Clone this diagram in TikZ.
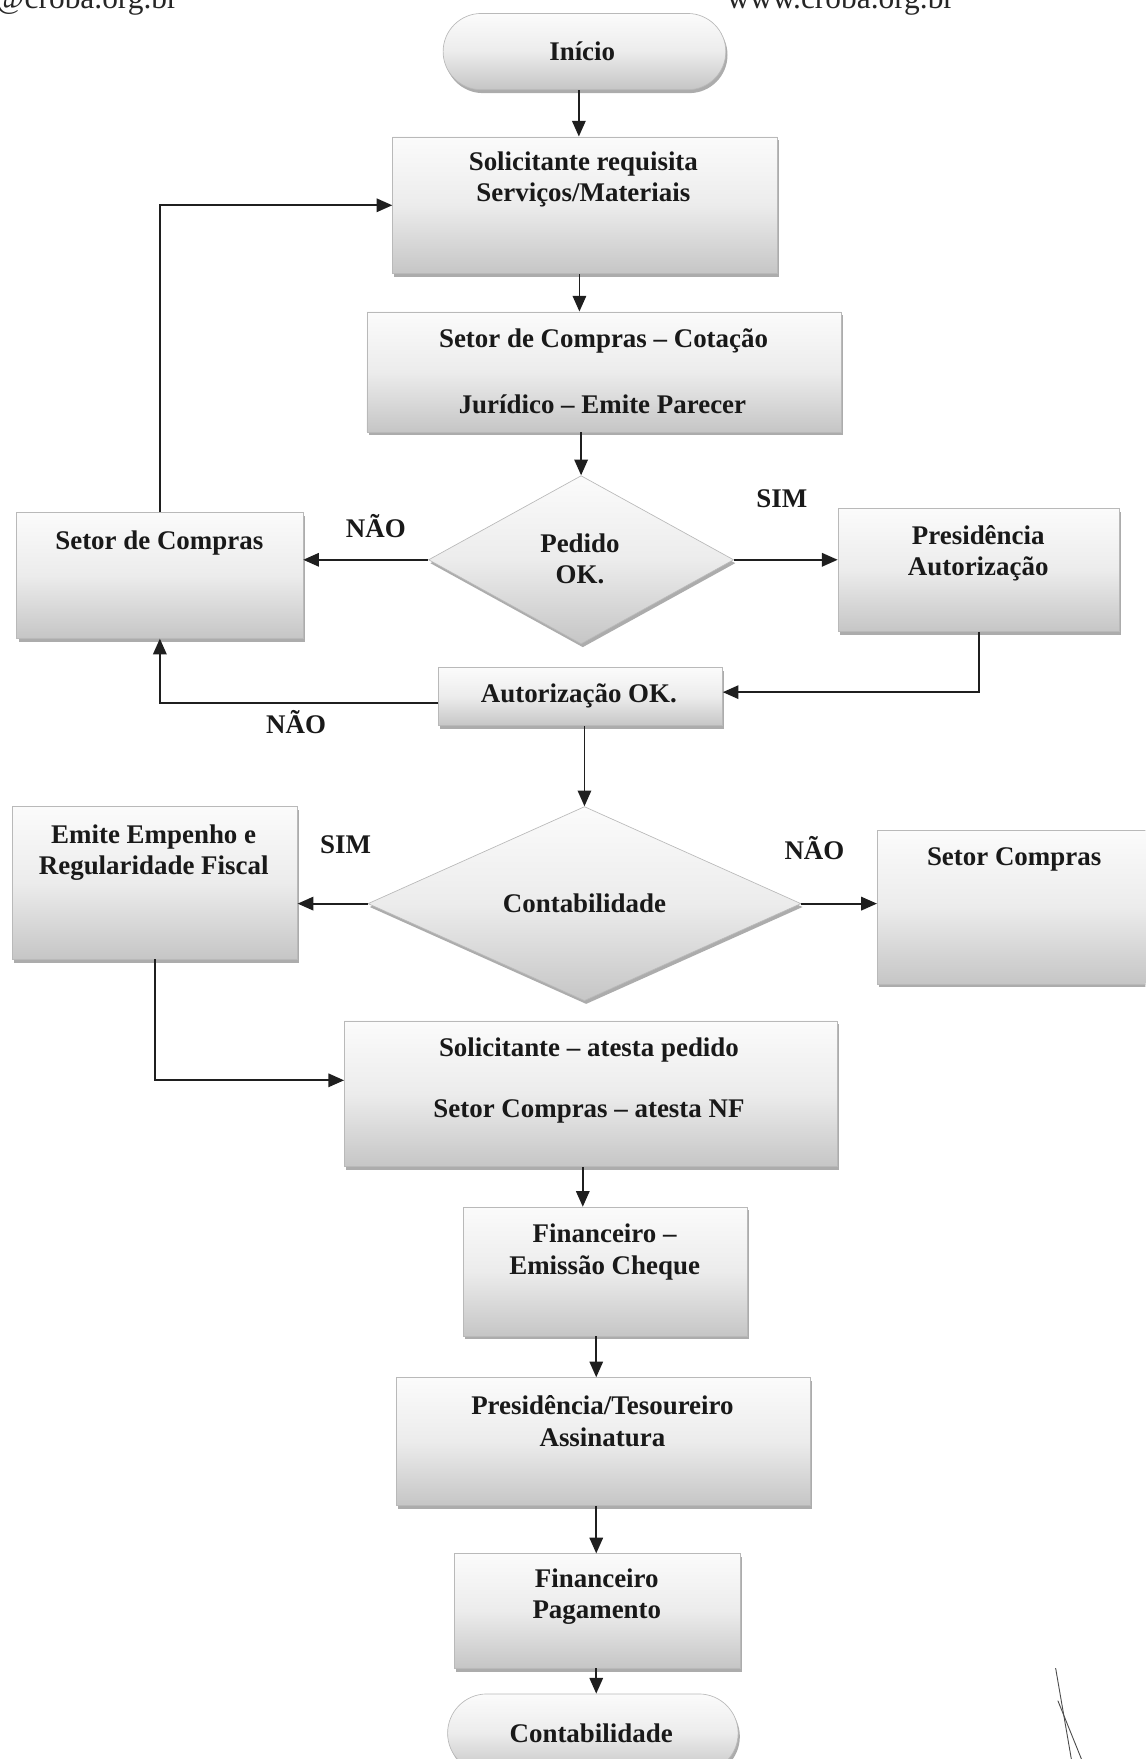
\documentclass[tikz,border=0pt]{standalone}
\usepackage{fontspec}
\setmainfont{Liberation Serif}
\usetikzlibrary{shapes.geometric,arrows.meta,shadows}
\begin{document}
\begin{tikzpicture}[x=1pt,y=-1pt,
 sh/.style={draw=gray!55, line width=0.6pt, shading=axis, top color=gray!3, bottom color=gray!45, middle color=gray!15,
   general shadow={fill=gray!65, shadow xshift=1.5pt, shadow yshift=-3pt}},
 boxn/.style={sh, rectangle, inner sep=0pt},
 term/.style={sh, rectangle, inner sep=0pt},
 dia/.style={sh, diamond, inner sep=0pt},
 txt/.style={font=\bfseries\fontsize{24}{28}\selectfont, text=black!90, align=center, inner sep=0pt},
 hdr/.style={font=\fontsize{28}{30}\selectfont, text=black!85, anchor=base west, inner sep=0pt},
 arr/.style={draw=black!88, line width=1.6pt, -{Triangle[length=14pt,width=12pt]}},
]
\useasboundingbox (0,0) rectangle (1021,1568);
\clip (0,0) rectangle (1021,1568);

% header (cut off at the top, as in the scan)
\node[hdr] (h1) at (-4,8) {@croba.org.br};
\node[hdr] (h2) at (648,8) {www.croba.org.br};

% nodes
\node[term, minimum width=252pt, minimum height=68pt, rounded corners=34pt] (start) at (521,46) {};
\node[txt] (tstart) at (519,46) {Início};

\node[boxn, minimum width=343pt, minimum height=122pt] (solic) at (521.5,183) {};
\node[txt] (tsolic) at (520,160) {Solicitante requisita\\Serviços/Materiais};

\node[boxn, minimum width=423pt, minimum height=107pt] (cot) at (538.5,331.5) {};
\node[txt] (tcot1) at (538,304) {Setor de Compras – Cotação};
\node[txt] (tcot2) at (537,360) {Jurídico – Emite Parecer};

\node[dia, minimum width=272pt, minimum height=150pt] (ped) at (518,499) {};
\node[txt] (tped) at (517,498) {Pedido\\OK.};

\node[boxn, minimum width=255pt, minimum height=112pt] (setl) at (142.5,513) {};
\node[txt] (tsetl) at (142,484) {Setor de Compras};

\node[boxn, minimum width=251pt, minimum height=110pt] (pres) at (872.5,508) {};
\node[txt] (tpres) at (872,493) {Presidência\\Autorização};

\node[boxn, minimum width=253pt, minimum height=52pt] (aut) at (517.5,621) {};
\node[txt] (taut) at (516,620) {Autorização OK.};

\node[dia, minimum width=386pt, minimum height=173pt] (con) at (521,805.5) {};
\node[txt] (tcon) at (521,805) {Contabilidade};

\node[boxn, minimum width=254pt, minimum height=136pt] (emi) at (138,787) {};
\node[txt] (temi) at (137,760) {Emite Empenho e\\Regularidade Fiscal};

\node[boxn, minimum width=260pt, minimum height=137pt] (setc) at (912,808.5) {};
\node[txt] (tsetc) at (904,766) {Setor Compras};

\node[boxn, minimum width=439pt, minimum height=130pt] (ates) at (526.5,975) {};
\node[txt] (tates1) at (525,936) {Solicitante – atesta pedido};
\node[txt] (tates2) at (525,991) {Setor Compras – atesta NF};

\node[boxn, minimum width=253pt, minimum height=115pt] (fin1) at (539.5,1133.5) {};
\node[txt] (tfin1) at (539,1116) {Financeiro –\\Emissão Cheque};

\node[boxn, minimum width=369pt, minimum height=114pt] (presT) at (537.5,1285) {};
\node[txt] (tpresT) at (537,1267) {Presidência/Tesoureiro\\Assinatura};

\node[boxn, minimum width=255pt, minimum height=102pt] (fin2) at (532.5,1436) {};
\node[txt] (tfin2) at (532,1423.5) {Financeiro\\Pagamento};

\node[term, minimum width=259pt, minimum height=70pt, rounded corners=35pt] (endn) at (528.5,1545) {};
\node[txt] (tend) at (527,1545) {Contabilidade};

% labels
\node[txt] (l1) at (335,469) {NÃO};
\node[txt] (l2) at (697,445) {SIM};
\node[txt] (l3) at (264,644) {NÃO};
\node[txt] (l4) at (308,753) {SIM};
\node[txt] (l5) at (726,756) {NÃO};

% connectors
\coordinate (a1) at ([xshift=-5pt]start.south);
\draw[arr] (a1) -- (a1 |- solic.north);
\coordinate (a2) at ([xshift=-5pt]solic.south);
\draw[arr] (a2) -- (a2 |- cot.north);
\draw[arr] (ped.north |- cot.south) -- (ped.north);
\draw[arr] (ped.west) -- (ped.west -| setl.east);
\draw[arr] (ped.east) -- (ped.east -| pres.west);
\draw[arr] (setl.north) |- (solic.west);
\draw[arr] (pres.south) |- ([yshift=4pt]aut.east);
\draw[arr] ([yshift=-6pt]aut.west) -| (setl.south);
\draw[arr] (con.north |- aut.south) -- (con.north);
\draw[arr] (con.west) -- (con.west -| emi.east);
\draw[arr] (con.east) -- (con.east -| setc.west);
\draw[arr] (emi.south) |- ([yshift=12pt]ates.west);
\coordinate (a3) at ([xshift=-7pt]ates.south);
\draw[arr] (a3) -- (a3 |- fin1.north);
\coordinate (a4) at ([xshift=-8pt]fin1.south);
\draw[arr] (a4) -- (a4 |- presT.north);
\coordinate (a5) at ([xshift=-6pt]presT.south);
\draw[arr] (a5) -- (a5 |- fin2.north);
\coordinate (a6) at ([xshift=-1pt]fin2.south);
\draw[arr] (a6) -- (a6 |- endn.north);

% hand-drawn mark bottom right
\draw[line width=0.8pt, black!70] (941,1487) -- (955,1568);
\draw[line width=0.8pt, black!70] (943,1516) -- (964,1568);
\end{tikzpicture}
\end{document}
